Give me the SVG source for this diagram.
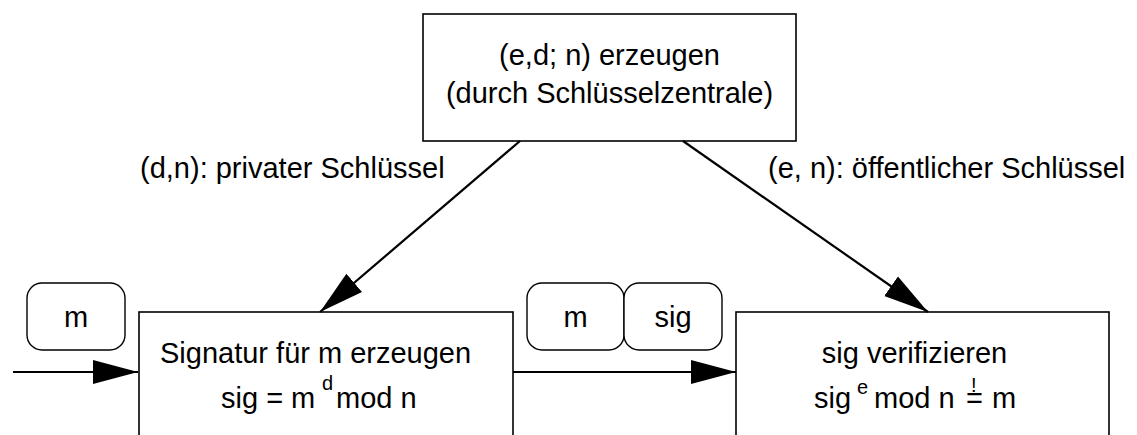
<svg xmlns="http://www.w3.org/2000/svg" width="1137" height="435" viewBox="0 0 1137 435">
<style>
text{font-family:"Liberation Sans",Arial,sans-serif;font-size:29px;fill:#000}
.box{fill:#fff;stroke:#000;stroke-width:1.6}
.tok{fill:#fff;stroke:#000;stroke-width:1.4}
.conn{stroke:#000;stroke-width:2.2;fill:none}
.mid{text-anchor:middle}
.sup{font-size:20px}
</style>
<defs>
<marker id="ah" markerUnits="userSpaceOnUse" markerWidth="46" markerHeight="26" refX="45" refY="12" orient="auto" viewBox="0 0 46 24">
<path d="M0,0 L45,12 L0,24 Z" fill="#000"/>
</marker>
</defs>
<rect width="1137" height="435" fill="#fff"/>
<g id="keygen">
<rect class="box" x="423" y="14" width="373" height="127" stroke="#333"/>
<text class="mid" x="609.5" y="65">(e,d; n) erzeugen</text>
<text class="mid" x="609.5" y="103">(durch Schlüsselzentrale)</text>
</g>
<g id="sign">
<rect class="box" x="139" y="312" width="374" height="140"/>
<text x="160" y="363">Signatur für m erzeugen</text>
<text y="408"><tspan x="221">sig = m</tspan><tspan class="sup" x="322" y="390">d</tspan><tspan x="336" y="408">mod n</tspan></text>
</g>
<g id="verify">
<rect class="box" x="736" y="312" width="373" height="140"/>
<text class="mid" x="914.5" y="363">sig verifizieren</text>
<text y="408"><tspan x="814">sig</tspan><tspan class="sup" x="857" y="394">e</tspan><tspan x="874" y="408">mod n</tspan><tspan x="966" y="408">=</tspan><tspan class="sup" x="971" y="392">!</tspan><tspan x="992" y="408">m</tspan></text>
</g>
<g id="token-m-in">
<rect class="tok" x="27" y="283" width="98" height="67" rx="15"/>
<text class="mid" x="76" y="327">m</text>
</g>
<g id="token-m">
<rect class="tok" x="527" y="283" width="97" height="67" rx="15"/>
<text class="mid" x="575.5" y="327">m</text>
</g>
<g id="token-sig">
<rect class="tok" x="624" y="283" width="98" height="67" rx="15"/>
<text class="mid" x="673" y="327">sig</text>
</g>
<g id="labels">
<text x="140" y="178">(d,n): privater Schlüssel</text>
<text x="768" y="178">(e, n): öffentlicher Schlüssel</text>
</g>
<g id="connectors">
<line class="conn" x1="520" y1="141" x2="320" y2="312" marker-end="url(#ah)"/>
<line class="conn" x1="683" y1="141" x2="928" y2="312" marker-end="url(#ah)"/>
<line class="conn" x1="13" y1="372" x2="138" y2="372" marker-end="url(#ah)"/>
<line class="conn" x1="513" y1="372" x2="736" y2="372" marker-end="url(#ah)"/>
</g>
</svg>
